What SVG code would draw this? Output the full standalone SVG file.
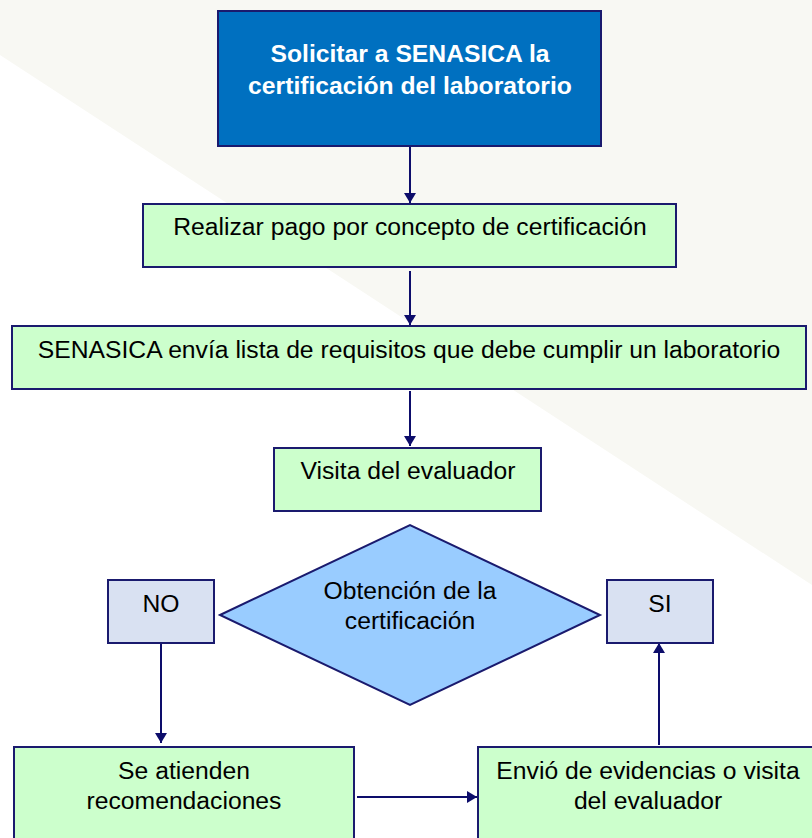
<svg xmlns="http://www.w3.org/2000/svg" width="812" height="838" viewBox="0 0 812 838">
<defs>
<style>
.t{font-family:"Liberation Sans",Arial,sans-serif;font-size:24.7px;fill:#000;text-anchor:middle}
.tw{font-family:"Liberation Sans",Arial,sans-serif;font-size:24.7px;font-weight:bold;fill:#fff;text-anchor:middle}
.g{fill:#ccffcc;stroke:#1a1a6e;stroke-width:2}
.l{fill:#d9e1f2;stroke:#1a1a6e;stroke-width:2}
.c{stroke:#0d0d6b;stroke-width:2;fill:none;marker-end:url(#ah)}
</style>
<marker id="ah" viewBox="0 0 10 12" refX="10" refY="6" markerWidth="10" markerHeight="12" markerUnits="userSpaceOnUse" orient="auto">
<path d="M0,0 L10,6 L0,12 Z" fill="#0d0d6b"/>
</marker>
</defs>
<rect width="812" height="838" fill="#ffffff"/>
<polygon points="0,0 812,0 812,585 0,55" fill="#f8f8f3"/>
<g id="connectors">
<line class="c" x1="410" y1="147" x2="410" y2="203"/>
<line class="c" x1="410" y1="271" x2="410" y2="325"/>
<line class="c" x1="410" y1="391" x2="410" y2="446"/>
<line class="c" x1="161" y1="644" x2="161" y2="743"/>
<line class="c" x1="357" y1="797" x2="477" y2="797"/>
<line class="c" x1="659" y1="745" x2="659" y2="643"/>
</g>
<g id="n1">
<rect x="218" y="11" width="383" height="135" fill="#0070c0" stroke="#1a1a6e" stroke-width="2"/>
<text class="tw" x="410" y="62">Solicitar a SENASICA la</text>
<text class="tw" x="410" y="94">certificación del laboratorio</text>
</g>
<g id="n2">
<rect class="g" x="143" y="204" width="533" height="63"/>
<text class="t" x="410" y="235">Realizar pago por concepto de certificación</text>
</g>
<g id="n3">
<rect class="g" x="12" y="326" width="794" height="63"/>
<text class="t" x="409" y="358">SENASICA envía lista de requisitos que debe cumplir un laboratorio</text>
</g>
<g id="n4">
<rect class="g" x="274" y="448" width="267" height="63"/>
<text class="t" x="408" y="479">Visita del evaluador</text>
</g>
<g id="n5">
<polygon points="220,615 410,525 600,615 410,705" fill="#99ccff" stroke="#1a1a6e" stroke-width="2"/>
<text class="t" x="410" y="599">Obtención de la</text>
<text class="t" x="410" y="629">certificación</text>
</g>
<g id="n6">
<rect class="l" x="108" y="580" width="106" height="63"/>
<text class="t" x="161" y="612">NO</text>
</g>
<g id="n7">
<rect class="l" x="607" y="580" width="106" height="63"/>
<text class="t" x="660" y="612">SI</text>
</g>
<g id="n8">
<rect class="g" x="14" y="747" width="340" height="100"/>
<text class="t" x="184" y="779">Se atienden</text>
<text class="t" x="184" y="809">recomendaciones</text>
</g>
<g id="n9">
<rect class="g" x="478" y="747" width="344" height="100"/>
<text class="t" x="648" y="779">Envió de evidencias o visita</text>
<text class="t" x="648" y="809">del evaluador</text>
</g>
</svg>
